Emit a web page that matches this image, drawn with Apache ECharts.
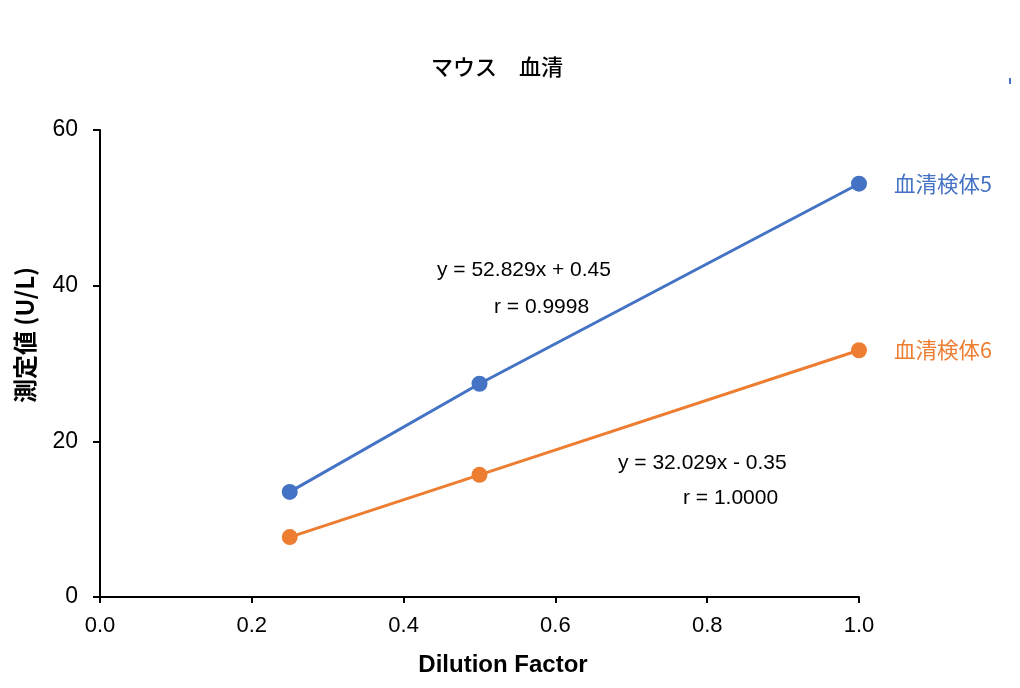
<!DOCTYPE html>
<html><head><meta charset="utf-8">
<script src="https://cdn.jsdelivr.net/npm/echarts@6/dist/echarts.min.js"></script>
<style>html,body{margin:0;padding:0;background:#fff}#c{width:1020px;height:688px}</style>
</head><body><div id="c"></div>
<script>
const dilution = [0.25, 0.5, 1.0];
const sample5 = [13.5, 27.4, 53.1];
const sample6 = [7.7, 15.7, 31.7];
const seriesNames = ['血清検体5', '血清検体6'];
const colors = ['#4472C4', '#ED7D31'];
const eq5 = ['y = 52.829x + 0.45', 'r = 0.9998'];
const eq6 = ['y = 32.029x - 0.35', 'r = 1.0000'];
const titleText = 'マウス　血清';
const xName = 'Dilution Factor';
const yName = '測定値 (U/L)';

const chart = echarts.init(document.getElementById('c'));
function mk(vals, i) {
  return {
    type: 'line', name: seriesNames[i],
    data: dilution.map((x, k) => [x, vals[k]]),
    symbol: 'circle', symbolSize: 16,
    lineStyle: { color: colors[i], width: 3 },
    itemStyle: { color: colors[i] },
    endLabel: { show: true, formatter: seriesNames[i], color: colors[i], fontSize: 21.5,
      fontFamily: 'Noto Sans CJK JP', distance: 35 },
    animation: false
  };
}
function t(text, x, y, extra) {
  return { type: 'text', x: x, y: y, style: Object.assign({ text: text, fontSize: 21,
    fontFamily: 'Liberation Sans', fill: '#000', verticalAlign: 'middle', align: 'left' }, extra || {}) };
}
chart.setOption({
  animation: false,
  grid: { left: 100, right: 161, top: 130, bottom: 91 },
  xAxis: { type: 'value', min: 0, max: 1, interval: 0.2,
    axisLine: { lineStyle: { color: '#000', width: 2 } },
    axisTick: { show: true, length: 6, lineStyle: { color: '#000', width: 2 } },
    axisLabel: { fontSize: 22, color: '#000', fontFamily: 'Liberation Sans', margin: 18,
      formatter: v => v.toFixed(1) },
    splitLine: { show: false } },
  yAxis: { type: 'value', min: 0, max: 60, interval: 20,
    axisLine: { show: true, lineStyle: { color: '#000', width: 2 } },
    axisTick: { show: true, length: 7, lineStyle: { color: '#000', width: 2 } },
    axisLabel: { fontSize: 23, color: '#000', fontFamily: 'Liberation Sans', margin: 22 },
    splitLine: { show: false } },
  series: [mk(sample5, 0), mk(sample6, 1)],
  graphic: [
    t(titleText, 497, 67, { align: 'center', fontSize: 22, fontFamily: 'Noto Sans CJK JP', fontWeight: 500 }),
    t(xName, 503, 665, { align: 'center', fontSize: 24, fontWeight: 'bold' }),
    { type: 'text', x: 25, y: 335, rotation: Math.PI / 2,
      style: { text: yName, fontSize: 24, fontWeight: 'bold', fontFamily: 'Noto Sans CJK JP',
        fill: '#000', align: 'center', verticalAlign: 'middle' } },
    t(eq5[0], 437, 270),
    t(eq5[1], 494, 307),
    t(eq6[0], 618, 463),
    t(eq6[1], 683, 498),
    { type: 'rect', shape: { x: 1009, y: 78, width: 2, height: 6 }, style: { fill: '#4472C4' } }
  ]
});
</script></body></html>
